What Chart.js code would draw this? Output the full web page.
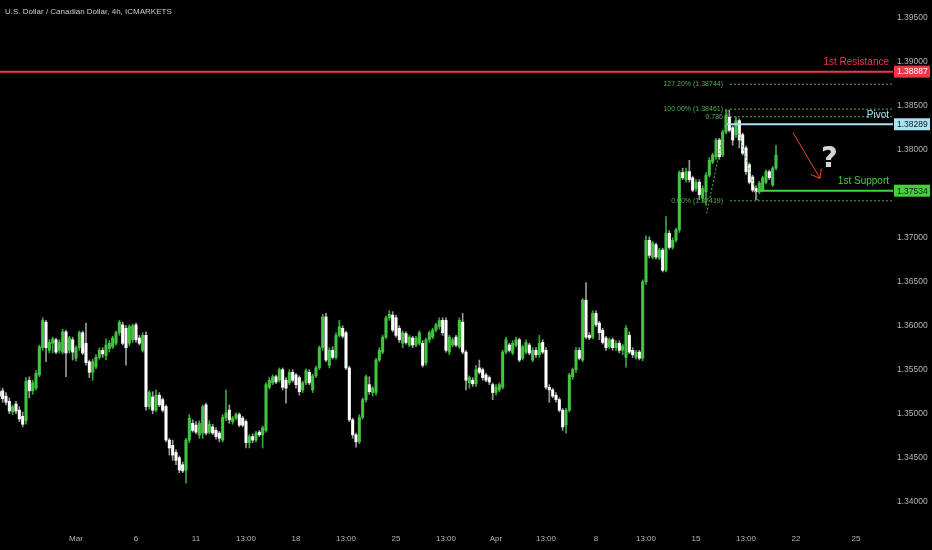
<!DOCTYPE html>
<html><head><meta charset="utf-8">
<script src="https://cdn.jsdelivr.net/npm/chart.js@4.4.1/dist/chart.umd.min.js"></script>
<style>html,body{margin:0;padding:0;background:#000;overflow:hidden}#wrap{position:relative;width:932px;height:550px}</style>
</head><body><div id="wrap"><canvas id="c"></canvas></div>
<script>
const title = 'U.S. Dollar / Canadian Dollar, 4h, ICMARKETS';
const firstCandle = 1;
const opens = [
1.3525,1.3526,1.3520,1.3514,1.3502,1.3511,1.3504,1.3497,1.3492,1.3538,
1.3526,1.3529,1.3544,1.3575,1.3604,1.3572,1.3580,1.3584,1.3572,1.3570,
1.3593,1.3572,1.3584,1.3563,1.3575,1.3592,1.3580,1.3559,1.3547,1.3553,
1.3564,1.3572,1.3566,1.3574,1.3576,1.3580,1.3592,1.3601,1.3597,1.3580,
1.3584,1.3601,1.3586,1.3572,1.3589,1.3508,1.3519,1.3504,1.3521,1.3516,
1.3508,1.3470,1.3464,1.3456,1.3450,1.3442,1.3436,1.3470,1.3489,1.3487,
1.3476,1.3478,1.3510,1.3479,1.3485,1.3481,1.3478,1.3470,1.3495,1.3504,
1.3491,1.3495,1.3499,1.3495,1.3491,1.3467,1.3474,1.3470,1.3479,1.3476,
1.3481,1.3530,1.3535,1.3542,1.3538,1.3550,1.3538,1.3535,1.3547,1.3544,
1.3541,1.3527,1.3535,1.3547,1.3527,1.3543,1.3552,1.3575,1.3610,1.3555,
1.3572,1.3564,1.3589,1.3597,1.3592,1.3552,1.3493,1.3476,1.3468,1.3496,
1.3516,1.3533,1.3524,1.3524,1.3561,1.3570,1.3587,1.3609,1.3612,1.3609,
1.3597,1.3580,1.3591,1.3578,1.3586,1.3578,1.3580,1.3580,1.3558,1.3584,
1.3587,1.3595,1.3599,1.3606,1.3606,1.3570,1.3578,1.3587,1.3576,1.3604,
1.3570,1.3535,1.3538,1.3534,1.3552,1.3550,1.3544,1.3541,1.3533,1.3524,
1.3527,1.3530,1.3570,1.3578,1.3569,1.3578,1.3584,1.3563,1.3570,1.3578,
1.3561,1.3572,1.3567,1.3581,1.3572,1.3530,1.3527,1.3521,1.3516,1.3504,
1.3487,1.3504,1.3542,1.3550,1.3572,1.3561,1.3629,1.3589,1.3587,1.3614,
1.3603,1.3595,1.3586,1.3576,1.3584,1.3575,1.3580,1.3572,1.3564,1.3589,
1.3572,1.3564,1.3570,1.3563,1.3650,1.3697,1.3678,1.3692,1.3677,1.3686,
1.3663,1.3705,1.3689,1.3697,1.3709,1.3774,1.3766,1.3775,1.3768,1.3756,
1.3763,1.3745,1.3752,1.3771,1.3786,1.3792,1.3811,1.3794,1.3820,1.3837,
1.3825,1.3817,1.3833,1.3817,1.3802,1.3783,1.3769,1.3756,1.3752,1.3754,
1.3763,1.3775,1.3760,1.3779];
const highs = [
1.3530,1.3529,1.3524,1.3518,1.3510,1.3514,1.3508,1.3502,1.3541,1.3542,
1.3538,1.3549,1.3578,1.3609,1.3606,1.3584,1.3587,1.3586,1.3584,1.3596,
1.3595,1.3588,1.3587,1.3577,1.3594,1.3594,1.3603,1.3561,1.3562,1.3567,
1.3575,1.3575,1.3585,1.3583,1.3588,1.3594,1.3606,1.3604,1.3600,1.3601,
1.3602,1.3603,1.3589,1.3592,1.3593,1.3526,1.3525,1.3527,1.3524,1.3518,
1.3510,1.3472,1.3470,1.3459,1.3452,1.3445,1.3472,1.3499,1.3493,1.3491,
1.3492,1.3510,1.3512,1.3492,1.3488,1.3484,1.3480,1.3499,1.3527,1.3510,
1.3497,1.3501,1.3501,1.3497,1.3493,1.3476,1.3477,1.3480,1.3481,1.3486,
1.3535,1.3541,1.3544,1.3544,1.3552,1.3552,1.3541,1.3550,1.3550,1.3546,
1.3543,1.3537,1.3551,1.3550,1.3545,1.3554,1.3577,1.3613,1.3614,1.3575,
1.3576,1.3592,1.3606,1.3600,1.3594,1.3554,1.3495,1.3478,1.3499,1.3518,
1.3544,1.3542,1.3531,1.3563,1.3575,1.3589,1.3611,1.3617,1.3616,1.3612,
1.3600,1.3594,1.3593,1.3589,1.3588,1.3588,1.3594,1.3583,1.3586,1.3594,
1.3597,1.3603,1.3609,1.3609,1.3609,1.3589,1.3586,1.3589,1.3609,1.3614,
1.3572,1.3543,1.3541,1.3555,1.3561,1.3552,1.3546,1.3543,1.3535,1.3533,
1.3535,1.3572,1.3587,1.3580,1.3583,1.3587,1.3586,1.3578,1.3584,1.3580,
1.3575,1.3575,1.3589,1.3584,1.3575,1.3533,1.3529,1.3524,1.3518,1.3506,
1.3506,1.3546,1.3552,1.3575,1.3575,1.3631,1.3649,1.3592,1.3617,1.3617,
1.3605,1.3597,1.3588,1.3586,1.3586,1.3583,1.3583,1.3579,1.3600,1.3593,
1.3575,1.3572,1.3572,1.3652,1.3702,1.3701,1.3696,1.3694,1.3688,1.3688,
1.3724,1.3708,1.3700,1.3711,1.3776,1.3779,1.3779,1.3788,1.3770,1.3766,
1.3766,1.3759,1.3774,1.3791,1.3796,1.3813,1.3813,1.3822,1.3846,1.3845,
1.3827,1.3837,1.3835,1.3819,1.3804,1.3785,1.3771,1.3759,1.3764,1.3770,
1.3777,1.3777,1.3781,1.3805];
const lows = [
1.3516,1.3513,1.3510,1.3500,1.3499,1.3500,1.3491,1.3485,1.3488,1.3518,
1.3522,1.3527,1.3542,1.3572,1.3559,1.3569,1.3569,1.3568,1.3569,1.3568,
1.3542,1.3569,1.3561,1.3560,1.3572,1.3567,1.3555,1.3541,1.3538,1.3551,
1.3562,1.3564,1.3561,1.3570,1.3574,1.3578,1.3589,1.3578,1.3555,1.3577,
1.3581,1.3581,1.3578,1.3570,1.3504,1.3505,1.3500,1.3502,1.3508,1.3502,
1.3468,1.3453,1.3447,1.3442,1.3433,1.3433,1.3421,1.3467,1.3479,1.3477,
1.3472,1.3472,1.3476,1.3477,1.3476,1.3471,1.3468,1.3468,1.3492,1.3489,
1.3488,1.3493,1.3485,1.3485,1.3461,1.3461,1.3467,1.3468,1.3474,1.3461,
1.3479,1.3528,1.3533,1.3534,1.3536,1.3527,1.3512,1.3533,1.3536,1.3529,
1.3521,1.3524,1.3533,1.3533,1.3524,1.3541,1.3550,1.3572,1.3559,1.3552,
1.3562,1.3562,1.3587,1.3586,1.3550,1.3491,1.3472,1.3462,1.3466,1.3494,
1.3513,1.3522,1.3520,1.3521,1.3559,1.3568,1.3585,1.3606,1.3593,1.3587,
1.3581,1.3575,1.3579,1.3576,1.3575,1.3576,1.3578,1.3553,1.3555,1.3581,
1.3585,1.3593,1.3596,1.3589,1.3570,1.3567,1.3576,1.3576,1.3574,1.3568,
1.3527,1.3529,1.3531,1.3531,1.3545,1.3538,1.3536,1.3533,1.3516,1.3521,
1.3525,1.3528,1.3568,1.3570,1.3567,1.3576,1.3559,1.3561,1.3568,1.3567,
1.3559,1.3564,1.3564,1.3568,1.3528,1.3513,1.3518,1.3513,1.3502,1.3481,
1.3478,1.3502,1.3539,1.3547,1.3561,1.3559,1.3585,1.3584,1.3585,1.3599,
1.3584,1.3579,1.3572,1.3574,1.3572,1.3572,1.3569,1.3567,1.3553,1.3568,
1.3564,1.3562,1.3561,1.3560,1.3647,1.3677,1.3676,1.3676,1.3675,1.3661,
1.3661,1.3687,1.3687,1.3695,1.3706,1.3766,1.3763,1.3763,1.3752,1.3753,
1.3743,1.3741,1.3737,1.3769,1.3784,1.3789,1.3789,1.3792,1.3818,1.3820,
1.3805,1.3814,1.3802,1.3794,1.3772,1.3761,1.3752,1.3743,1.3750,1.3752,
1.3761,1.3766,1.3758,1.3777];
const closes = [
1.3520,1.3517,1.3513,1.3503,1.3508,1.3503,1.3494,1.3488,1.3537,1.3526,
1.3535,1.3546,1.3576,1.3606,1.3575,1.3581,1.3585,1.3570,1.3581,1.3593,
1.3569,1.3586,1.3570,1.3575,1.3592,1.3569,1.3558,1.3547,1.3559,1.3564,
1.3572,1.3568,1.3578,1.3580,1.3586,1.3592,1.3604,1.3580,1.3575,1.3599,
1.3600,1.3584,1.3580,1.3589,1.3508,1.3524,1.3504,1.3521,1.3510,1.3504,
1.3470,1.3461,1.3453,1.3447,1.3436,1.3435,1.3470,1.3495,1.3481,1.3479,
1.3489,1.3508,1.3478,1.3488,1.3478,1.3474,1.3472,1.3496,1.3501,1.3493,
1.3495,1.3499,1.3487,1.3487,1.3467,1.3474,1.3470,1.3478,1.3476,1.3484,
1.3533,1.3538,1.3542,1.3536,1.3550,1.3530,1.3529,1.3547,1.3538,1.3533,
1.3525,1.3535,1.3549,1.3535,1.3543,1.3552,1.3575,1.3610,1.3561,1.3572,
1.3564,1.3589,1.3599,1.3588,1.3552,1.3493,1.3476,1.3468,1.3496,1.3516,
1.3542,1.3525,1.3529,1.3561,1.3572,1.3587,1.3609,1.3613,1.3595,1.3589,
1.3584,1.3592,1.3581,1.3587,1.3578,1.3586,1.3592,1.3555,1.3584,1.3592,
1.3595,1.3601,1.3606,1.3592,1.3572,1.3587,1.3584,1.3578,1.3606,1.3570,
1.3538,1.3541,1.3534,1.3550,1.3547,1.3541,1.3538,1.3536,1.3524,1.3530,
1.3533,1.3570,1.3584,1.3572,1.3580,1.3584,1.3561,1.3576,1.3581,1.3569,
1.3572,1.3567,1.3580,1.3570,1.3530,1.3527,1.3520,1.3516,1.3504,1.3485,
1.3504,1.3544,1.3550,1.3572,1.3563,1.3629,1.3587,1.3586,1.3614,1.3601,
1.3592,1.3581,1.3575,1.3584,1.3575,1.3580,1.3572,1.3577,1.3597,1.3570,
1.3567,1.3570,1.3563,1.3650,1.3697,1.3680,1.3694,1.3678,1.3686,1.3663,
1.3705,1.3689,1.3697,1.3709,1.3774,1.3768,1.3775,1.3766,1.3754,1.3763,
1.3749,1.3756,1.3771,1.3788,1.3794,1.3811,1.3792,1.3820,1.3839,1.3822,
1.3811,1.3833,1.3811,1.3796,1.3775,1.3763,1.3754,1.3752,1.3762,1.3768,
1.3775,1.3768,1.3779,1.3794];

const timeTickPositions = [24,42,60,75,90,105,120,135,150,165,180,195,210,225,240,258];
const timeTickLabels = ['Mar','6','11','13:00','18','13:00','25','13:00','Apr','13:00','8','13:00','15','13:00','22','25'];
const priceTicks = [1.340,1.345,1.350,1.355,1.360,1.365,1.370,1.375,1.380,1.385,1.390,1.395];
const xRange = [1.2, 269.1];
const yRange = [1.337465, 1.39701];

const levelNames = ['1st Resistance','Pivot','1st Support'];
const levelValues = [1.38887, 1.38289, 1.37534];
const levelStarts = [1.2, 219.3, 228.3];
const levelColors = ['#f23645','#a8e4f2','#44d13c'];
const levelBoxText = ['#ffffff','#131722','#131722'];

const fibLevels = [1.38744, 1.38461, 1.38374, 1.37419];
const fibLabels = ['127.20% (1.38744)','100.00% (1.38461)','0.786','0.00% (1.37419)'];
const fibStart = 220.2;
const fibRiseX = [213.2, 219.7], fibRiseY = [1.37275, 1.38461];
const fibFallX = [222.5, 228.7], fibFallY = [1.38230, 1.37420];
const arrowX = [239.1, 247.2], arrowY = [1.38193, 1.37675];
const questionPos = [250.05, 1.37800];

const UP = '#43c443', DOWN = '#ffffff', UPWICK = '#3aa83a', DOWNWICK = '#9a9a9a';
const FIB = '#4caf50';
const FONT = '"Liberation Sans", Arial, sans-serif';

const bodyData = opens.map((o,n)=>({x:firstCandle+n, y:[o, closes[n]]}));
const wickData = lows.map((l,n)=>({x:firstCandle+n, y:[l, highs[n]]}));
const isUp = opens.map((o,n)=>closes[n]>=o);

const datasets = [];
datasets.push({type:'bar', data:wickData, backgroundColor:isUp.map(u=>u?UPWICK:DOWNWICK), barThickness:1, grouped:false, order:3, borderWidth:0});
datasets.push({type:'bar', data:bodyData, backgroundColor:isUp.map(u=>u?UP:DOWN), barThickness:2.4, grouped:false, order:2, borderWidth:0, minBarLength:1});
levelValues.forEach((v,k)=>datasets.push({type:'line', data:[{x:levelStarts[k],y:v},{x:xRange[1],y:v}], borderColor:levelColors[k], borderWidth:2, pointRadius:0, fill:false, order:0}));
fibLevels.forEach(v=>datasets.push({type:'line', data:[{x:fibStart,y:v},{x:xRange[1],y:v}], borderColor:FIB, borderWidth:1, borderDash:[2,2], pointRadius:0, fill:false, order:1}));
datasets.push({type:'line', data:fibRiseX.map((x,k)=>({x, y:fibRiseY[k]})), borderColor:FIB, borderWidth:1, borderDash:[2,2], pointRadius:0, fill:false, order:1});
datasets.push({type:'line', data:fibFallX.map((x,k)=>({x, y:fibFallY[k]})), borderColor:FIB, borderWidth:1, borderDash:[2,2], pointRadius:0, fill:false, order:1});
datasets.push({type:'line', data:arrowX.map((x,k)=>({x, y:arrowY[k]})), borderColor:'#e8473d', borderWidth:1, pointRadius:0, fill:false, order:0});

const annotate = {
  id:'annotate',
  beforeDraw(chart){const c=chart.ctx;c.save();c.fillStyle='#000';c.fillRect(0,0,chart.width,chart.height);c.restore();},
  afterDraw(chart){
    const ctx=chart.ctx, xs=chart.scales.x, ys=chart.scales.y, area=chart.chartArea;
    ctx.save();
    ctx.textBaseline='middle';
    ctx.font='8px '+FONT; ctx.fillStyle='#c9cbd1'; ctx.textAlign='left';
    ctx.fillText(title, 5, 12);
    ctx.font='7px '+FONT; ctx.fillStyle=FIB; ctx.textAlign='right';
    const fx = xs.getPixelForValue(fibStart)-7;
    fibLevels.forEach((v,k)=>ctx.fillText(fibLabels[k], fx, ys.getPixelForValue(v)));
    levelValues.forEach((v,k)=>{
      const y = ys.getPixelForValue(v);
      ctx.font='10px '+FONT; ctx.fillStyle=levelColors[k]; ctx.textAlign='right';
      ctx.fillText(levelNames[k], area.right-4, y-9);
      ctx.fillStyle=levelColors[k];
      ctx.fillRect(area.right+1, y-6, chart.width-area.right-3, 12);
      ctx.font='8.5px '+FONT; ctx.fillStyle=levelBoxText[k]; ctx.textAlign='left';
      ctx.fillText(v.toFixed(5), area.right+4, y+0.5);
    });
    const x1=xs.getPixelForValue(arrowX[0]), y1=ys.getPixelForValue(arrowY[0]);
    const x2=xs.getPixelForValue(arrowX[1]), y2=ys.getPixelForValue(arrowY[1]);
    const ang=Math.atan2(y1-y2, x1-x2);
    ctx.strokeStyle='#e8473d'; ctx.lineWidth=1;
    ctx.beginPath();
    ctx.moveTo(x2+10*Math.cos(ang-0.65), y2+10*Math.sin(ang-0.65));
    ctx.lineTo(x2,y2);
    ctx.lineTo(x2+10*Math.cos(ang+0.65), y2+10*Math.sin(ang+0.65));
    ctx.stroke();
    ctx.font='bold 29px "DejaVu Sans", sans-serif'; ctx.fillStyle='#d6d6d6'; ctx.textAlign='center'; ctx.textBaseline='alphabetic';
    ctx.fillText('?', xs.getPixelForValue(questionPos[0]), ys.getPixelForValue(questionPos[1]));
    ctx.restore();
  }
};

new Chart(document.getElementById('c'), {
  type:'bar',
  data:{datasets},
  options:{
    responsive:true, maintainAspectRatio:false, animation:false,
    layout:{padding:0},
    plugins:{legend:{display:false}, tooltip:{enabled:false}},
    scales:{
      x:{type:'linear', min:xRange[0], max:xRange[1], offset:false,
        grid:{display:false, drawTicks:false}, border:{display:false},
        afterFit(s){s.height=26; s.paddingLeft=0; s.paddingRight=0;},
        afterBuildTicks(s){s.ticks=timeTickPositions.map(v=>({value:v}));},
        ticks:{autoSkip:false, maxRotation:0, padding:10, color:'#b2b5be', font:{family:FONT, size:8},
          callback(v){const k=timeTickPositions.indexOf(v);return k>=0?timeTickLabels[k]:'';}}
      },
      y:{type:'linear', position:'right', min:yRange[0], max:yRange[1],
        grid:{display:false, drawTicks:false}, border:{display:false},
        afterFit(s){s.width=39; s.paddingTop=0; s.paddingBottom=0;},
        afterBuildTicks(s){s.ticks=priceTicks.map(v=>({value:v}));},
        ticks:{padding:4, color:'#b2b5be', font:{family:FONT, size:8.5}, callback(v){return Number(v).toFixed(5);}}
      }
    }
  },
  plugins:[annotate]
});
</script></body></html>
